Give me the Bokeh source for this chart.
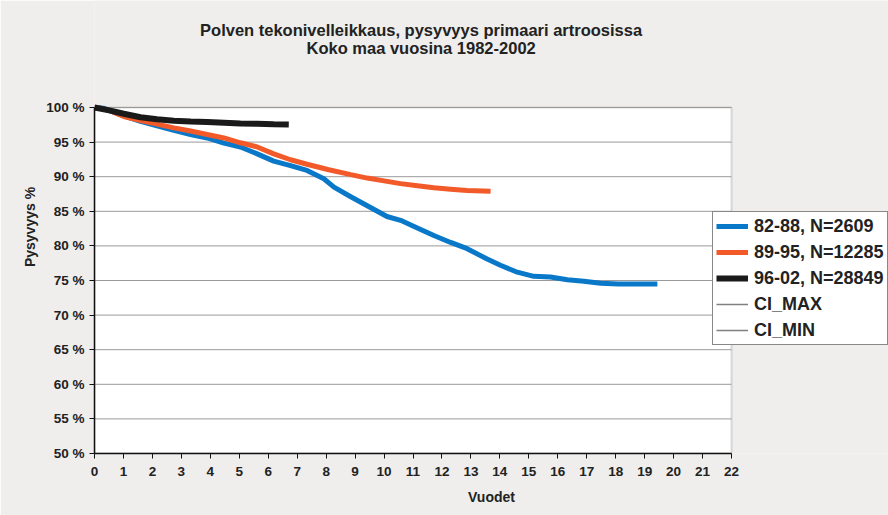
from bokeh.plotting import figure
from bokeh.models import Legend, LegendItem, FixedTicker, Label, BoxAnnotation
from bokeh.embed import file_html
from bokeh.resources import INLINE

NAN = float("nan")

# ---- data ----
title_line1 = "Polven tekonivelleikkaus, pysyvyys primaari artroosissa"
title_line2 = "Koko maa vuosina 1982-2002"
x_label = "Vuodet"
y_label = "Pysyvyys %"

x_min, x_max = 0, 22
y_min, y_max = 50, 100
x_ticks = list(range(0, 23))
y_ticks = [50, 55, 60, 65, 70, 75, 80, 85, 90, 95, 100]
y_tick_labels = ["50 %", "55 %", "60 %", "65 %", "70 %", "75 %", "80 %", "85 %", "90 %", "95 %", "100 %"]

names = ["82-88, N=2609", "89-95, N=12285", "96-02, N=28849", "CI_MAX", "CI_MIN"]

t_8288 = [0, 0.3, 0.55, 1.01, 1.59, 2.16, 2.74, 3.32, 3.89, 4.47, 5.04, 5.62, 6.19, 6.77,
          7.34, 7.92, 8.27, 8.85, 9.42, 10.1, 10.57, 11.15, 11.72, 12.3, 12.87, 13.56,
          14.02, 14.6, 15.17, 15.75, 16.33, 16.9, 17.48, 18.1, 18.8, 19.44]
v_8288 = [100, 99.9, 99.5, 98.8, 98.0, 97.35, 96.7, 96.1, 95.6, 94.85, 94.3, 93.3, 92.25, 91.6,
          90.9, 89.7, 88.5, 87.1, 85.8, 84.25, 83.7, 82.6, 81.5, 80.5, 79.6, 78.1,
          77.2, 76.2, 75.6, 75.5, 75.1, 74.9, 74.6, 74.5, 74.5, 74.5]

t_8995 = [0, 0.3, 0.55, 1.01, 1.59, 2.16, 2.74, 3.32, 3.89, 4.47, 5.04, 5.62, 6.19, 6.77,
          7.34, 8.09, 8.85, 9.42, 10.0, 10.57, 11.15, 11.72, 12.3, 12.87, 13.68]
v_8995 = [100, 99.8, 99.5, 98.7, 98.1, 97.6, 97.05, 96.6, 96.1, 95.6, 94.9, 94.3, 93.3, 92.45,
          91.8, 91.0, 90.3, 89.8, 89.4, 89.0, 88.7, 88.4, 88.2, 88.0, 87.9]

t_9602 = [0, 0.55, 1.01, 1.59, 2.16, 2.74, 3.32, 3.89, 4.47, 5.04, 5.62, 6.19, 6.71]
v_9602 = [100, 99.55, 99.1, 98.6, 98.3, 98.1, 97.98, 97.9, 97.8, 97.7, 97.64, 97.58, 97.54]

# confidence-limit series are listed in the legend but not drawn in the chart
t_ci_max, v_ci_max = [NAN], [NAN]
t_ci_min, v_ci_min = [NAN], [NAN]

colors = ["#0a78c8", "#f25a2a", "#1a1a1a", "#808080", "#808080"]
widths = [5, 5, 6, 1.5, 1.5]

FONT = "Liberation Sans"
TXT = "#222222"
BG = "#efeeec"

# The frame is extended to the right and upwards so that the legend and the
# title (which overlap / lie outside the white plot area) are not clipped.
PX_PER_X = 637 / 22.0
PX_PER_Y = 346 / 50.0
FRAME_W = 888 - 94
FRAME_H = 453

p = figure(width=888, height=515,
           x_range=(x_min, x_min + FRAME_W / PX_PER_X),
           y_range=(y_min, y_min + FRAME_H / PX_PER_Y),
           output_backend="svg", toolbar_location=None,
           min_border_left=94, min_border_right=0, min_border_top=0, min_border_bottom=62)

p.background_fill_color = BG
p.border_fill_color = BG
p.outline_line_color = None
p.xgrid.grid_line_color = None
p.ygrid.grid_line_color = None

# white plot area with grey border
p.add_layout(BoxAnnotation(left=x_min, right=x_max, bottom=y_min, top=y_max,
                           fill_color="white", fill_alpha=1,
                           line_color="#8c8c8c", line_width=2, level="underlay"))

# horizontal gridlines, limited to the plot area
p.segment(x0=[x_min] * len(y_ticks), x1=[x_max] * len(y_ticks), y0=y_ticks, y1=y_ticks,
          line_color="#9a9a9a", line_width=1)

# axes
p.xaxis.ticker = FixedTicker(ticks=x_ticks)
p.yaxis.ticker = FixedTicker(ticks=y_ticks)
p.xaxis.bounds = (x_min, x_max)
p.yaxis.bounds = (y_min, y_max)
p.yaxis.major_label_overrides = {t: s for t, s in zip(y_ticks, y_tick_labels)}
for ax in (p.xaxis, p.yaxis):
    ax.axis_line_color = "#111111"
    ax.axis_line_width = 1.5
    ax.major_tick_line_color = "#111111"
    ax.major_tick_out = 5
    ax.major_tick_in = 0
    ax.minor_tick_line_color = None
    ax.major_label_text_font = FONT
    ax.major_label_text_font_style = "bold"
    ax.major_label_text_font_size = "13.5px"
    ax.major_label_text_color = TXT
    ax.axis_label_text_font = FONT
    ax.axis_label_text_font_style = "bold"
    ax.axis_label_text_font_size = "14px"
    ax.axis_label_text_color = TXT
p.xaxis.axis_label = x_label
p.yaxis.axis_label = y_label
p.xaxis.major_label_standoff = 8
p.yaxis.major_label_standoff = 5
p.xaxis.axis_label_standoff = 10
p.yaxis.axis_label_standoff = 5

# series
r1 = p.line(t_8288, v_8288, line_color=colors[0], line_width=widths[0])
r2 = p.line(t_8995, v_8995, line_color=colors[1], line_width=widths[1])
r3 = p.line(t_9602, v_9602, line_color=colors[2], line_width=widths[2])
r4 = p.line(t_ci_max, v_ci_max, line_color=colors[3], line_width=widths[3])
r5 = p.line(t_ci_min, v_ci_min, line_color=colors[4], line_width=widths[4])

legend = Legend(items=[LegendItem(label=n, renderers=[r]) for n, r in zip(names, [r1, r2, r3, r4, r5])],
                location=(618, 108))
legend.label_text_font = FONT
legend.label_text_font_style = "bold"
legend.label_text_font_size = "18px"
legend.label_text_color = TXT
legend.label_standoff = 6
legend.glyph_width = 32
legend.glyph_height = 22
legend.label_height = 22
legend.spacing = 4
legend.padding = 3
legend.margin = 0
legend.border_line_color = "#111111"
legend.border_line_width = 1
legend.background_fill_color = "white"
legend.background_fill_alpha = 1
p.add_layout(legend, "center")

# title (two centred lines above the plot area)
for txt, yv in ((title_line1, 111.13), (title_line2, 108.53)):
    p.add_layout(Label(x=11.28, y=yv, text=txt, text_align="center", text_baseline="middle",
                       text_font=FONT, text_font_style="bold", text_font_size="16.5px",
                       text_color=TXT))

open("out.html", "w").write(file_html(p, INLINE))
